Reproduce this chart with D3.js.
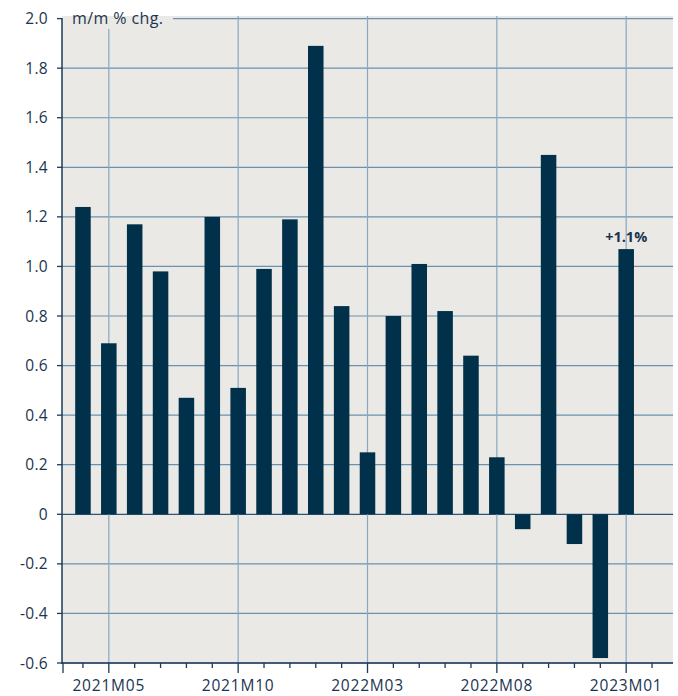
<!DOCTYPE html>
<html><head><meta charset="utf-8">
<script src="https://cdn.jsdelivr.net/npm/d3@7"></script>
<style>
body{margin:0;background:#fff;}
text{font-family:"Open Sans",sans-serif;fill:#1b3550;}
</style></head>
<body><svg id="c" width="678" height="696"></svg>
<script>
const months = ["2021M04","2021M05","2021M06","2021M07","2021M08","2021M09","2021M10","2021M11","2021M12",
"2022M01","2022M02","2022M03","2022M04","2022M05","2022M06","2022M07","2022M08","2022M09","2022M10","2022M11","2022M12","2023M01","2023M02"];
const values = [1.24,0.69,1.17,0.98,0.47,1.20,0.51,0.99,1.19,1.89,0.84,0.25,0.80,1.01,0.82,0.64,0.23,-0.06,1.45,-0.12,-0.58,1.07,null];
const labelMonths = ["2021M05","2021M10","2022M03","2022M08","2023M01"];
const yTicks = [-0.6,-0.4,-0.2,0,0.2,0.4,0.6,0.8,1.0,1.2,1.4,1.6,1.8,2.0];
const yTickLabels = ["-0.6","-0.4","-0.2","0","0.2","0.4","0.6","0.8","1.0","1.2","1.4","1.6","1.8","2.0"];
const title = "m/m % chg.";
const annotation = "+1.1%";

const svg = d3.select("#c");
const L=62, R=673, T=16, B=663;
const x = d3.scaleBand().domain(months).range([L,R]).paddingInner(0.4).paddingOuter(0.51);
const y = d3.scaleLinear().domain([-0.6,2.0]).range([B,18.6]);
const grid="#6a92ae", dark="#1b3a55", barC="#00304a";

svg.append("rect").attr("x",L).attr("y",T).attr("width",R-L).attr("height",B-T).attr("fill","#ebe9e5");
// horizontal grid
svg.append("g").selectAll("line").data(yTicks).join("line")
 .attr("x1",L).attr("x2",R).attr("y1",d=>y(d)).attr("y2",d=>y(d))
 .attr("stroke",d=>d===0?"#2d5574":grid).attr("stroke-width",1.2);
// vertical grid
svg.append("g").selectAll("line").data(labelMonths).join("line")
 .attr("x1",d=>x(d)+x.bandwidth()/2).attr("x2",d=>x(d)+x.bandwidth()/2)
 .attr("y1",T).attr("y2",B).attr("stroke","#87a8bf").attr("stroke-width",1.2);
// title box
svg.append("rect").attr("x",L+1).attr("y",T).attr("width",110).attr("height",13).attr("fill","#ebe9e5");
svg.append("text").attr("x",72).attr("y",24).attr("font-size",16).attr("letter-spacing",0.4).text(title);
// bars
svg.append("g").selectAll("rect").data(months.map((m,i)=>({m,v:values[i]})).filter(d=>d.v!==null)).join("rect")
 .attr("x",d=>x(d.m)).attr("width",x.bandwidth())
 .attr("y",d=>y(Math.max(0,d.v))).attr("height",d=>Math.abs(y(d.v)-y(0)))
 .attr("fill",barC);
// annotation
svg.append("text").attr("x",x("2023M01")+x.bandwidth()/2).attr("y",y(values[21])-7)
 .attr("text-anchor","middle").attr("font-size",14.5).attr("font-weight","bold").text(annotation);
// y axis
svg.append("line").attr("x1",L).attr("x2",L).attr("y1",y(2.0)).attr("y2",B+1).attr("stroke",dark).attr("stroke-width",1.5);
svg.append("g").selectAll("line").data(yTicks).join("line")
 .attr("x1",L-5).attr("x2",L).attr("y1",d=>y(d)).attr("y2",d=>y(d)).attr("stroke",dark).attr("stroke-width",1.3);
svg.append("g").selectAll("text").data(yTicks).join("text")
 .attr("x",48).attr("y",d=>y(d)).attr("dy","0.36em").attr("text-anchor","end").attr("font-size",15.5).attr("letter-spacing",0.3)
 .text((d,i)=>yTickLabels[i]);
// x axis
svg.append("line").attr("x1",L).attr("x2",R).attr("y1",B).attr("y2",B).attr("stroke",dark).attr("stroke-width",1.5);
svg.append("g").selectAll("line").data(months).join("line")
 .attr("x1",d=>x(d)+x.bandwidth()/2).attr("x2",d=>x(d)+x.bandwidth()/2)
 .attr("y1",B).attr("y2",d=>labelMonths.includes(d)?B+10:B+5).attr("stroke",dark).attr("stroke-width",1.3);
svg.append("line").attr("x1",L+1).attr("x2",L+1).attr("y1",B).attr("y2",B+10).attr("stroke",dark).attr("stroke-width",1.3);
svg.append("g").selectAll("text").data(labelMonths).join("text")
 .attr("x",d=>x(d)+x.bandwidth()/2).attr("y",691).attr("text-anchor","middle").attr("font-size",15.5).attr("letter-spacing",0.8)
 .text(d=>d);
</script></body></html>
